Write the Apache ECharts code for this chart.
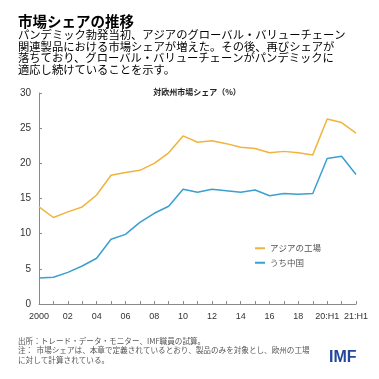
<!DOCTYPE html>
<html>
<head>
<meta charset="utf-8">
<script src="https://cdn.jsdelivr.net/npm/echarts@6/dist/echarts.min.js"></script>
<style>
  html, body { margin: 0; padding: 0; background: #fff; }
  #chart { width: 379px; height: 379px; }
</style>
</head>
<body>
<div id="chart"></div>
<script>
// 横軸カテゴリ
const categories = ['2000', '01', '02', '03', '04', '05', '06', '07', '08', '09',
  '10', '11', '12', '13', '14', '15', '16', '17', '18', '19', '20:H1', '20:H2', '21:H1'];
// アジアの工場
const asiaShare = [13.8, 12.3, 13.1, 13.8, 15.5, 18.3, 18.7, 19.0, 20.0, 21.5,
  23.9, 23.0, 23.2, 22.8, 22.3, 22.1, 21.5, 21.7, 21.5, 21.2, 26.3, 25.8, 24.3];
// うち中国
const chinaShare = [3.7, 3.8, 4.5, 5.4, 6.5, 9.2, 9.9, 11.6, 12.9, 13.9,
  16.3, 15.9, 16.3, 16.1, 15.9, 16.2, 15.4, 15.7, 15.6, 15.7, 20.7, 21.0, 18.4];

const jp = '"Noto Sans CJK JP", sans-serif';
const axisColor = '#8a8a8a';

const chart = echarts.init(document.getElementById('chart'));

const option = {
  animation: false,
  backgroundColor: '#fff',
  title: [{
    text: '市場シェアの推移',
    left: 18, top: 14, padding: 0,
    textStyle: { fontFamily: jp, fontSize: 14.5, fontWeight: 'bold', color: '#000', lineHeight: 14 }
  }, {
    text: 'パンデミック勃発当初、アジアのグローバル・バリューチェーン\n' +
      '関連製品における市場シェアが増えた。その後、再びシェアが\n' +
      '落ちており、グローバル・バリューチェーンがパンデミックに\n' +
      '適応し続けていることを示す。',
    left: 18, top: 29.5, padding: 0,
    textStyle: { fontFamily: jp, fontSize: 11.3, fontWeight: 'normal', color: '#000', lineHeight: 11.4 }
  }, {
    text: '対欧州市場シェア（%）',
    left: 197, top: 88, textAlign: 'center', padding: 0,
    textStyle: { fontFamily: jp, fontSize: 8, fontWeight: 'bold', color: '#222' }
  }],
  legend: {
    orient: 'vertical',
    left: 250, top: 239,
    itemWidth: 10, itemHeight: 2, itemGap: 6,
    icon: 'rect',
    textStyle: { fontFamily: jp, fontSize: 8.5, color: '#555' },
    data: ['アジアの工場', 'うち中国']
  },
  grid: { left: 39, right: 23, top: 93, bottom: 75 },
  xAxis: {
    type: 'category',
    data: categories,
    boundaryGap: false,
    axisLine: { lineStyle: { color: axisColor, width: 1 } },
    axisTick: { inside: true, length: 3, interval: 0, lineStyle: { color: axisColor } },
    axisLabel: { interval: 1, margin: 8, fontSize: 9, color: '#333', fontFamily: '"Liberation Sans", Arial, sans-serif' },
    splitLine: { show: false }
  },
  yAxis: {
    type: 'value',
    min: 0, max: 30, interval: 5,
    axisLine: { show: true, lineStyle: { color: axisColor, width: 1 } },
    axisTick: { show: true, inside: true, length: 3, lineStyle: { color: axisColor } },
    axisLabel: { margin: 8, fontSize: 10, color: '#333', fontFamily: '"Liberation Sans", Arial, sans-serif' },
    splitLine: { show: false }
  },
  series: [{
    name: 'アジアの工場',
    type: 'line',
    data: asiaShare,
    symbol: 'none',
    lineStyle: { color: '#EFB43E', width: 1.5 },
    itemStyle: { color: '#EFB43E' }
  }, {
    name: 'うち中国',
    type: 'line',
    data: chinaShare,
    symbol: 'none',
    lineStyle: { color: '#3B9FCF', width: 1.5 },
    itemStyle: { color: '#3B9FCF' }
  }],
  graphic: [{
    type: 'text',
    left: 18, top: 336,
    style: {
      text: '出所：トレード・データ・モニター、IMF職員の試算。\n' +
        '注：  市場シェアは、本章で定義されているとおり、製品のみを対象とし、欧州の工場\n' +
        'に対して計算されている。',
      font: '7.6px ' + jp,
      fill: '#555',
      lineHeight: 9.5
    }
  }, {
    type: 'text',
    left: 329, top: 350,
    style: {
      text: 'IMF',
      font: 'bold 16px "Liberation Sans", Arial, sans-serif',
      fill: '#23489B'
    }
  }]
};

chart.setOption(option);
</script>
</body>
</html>
